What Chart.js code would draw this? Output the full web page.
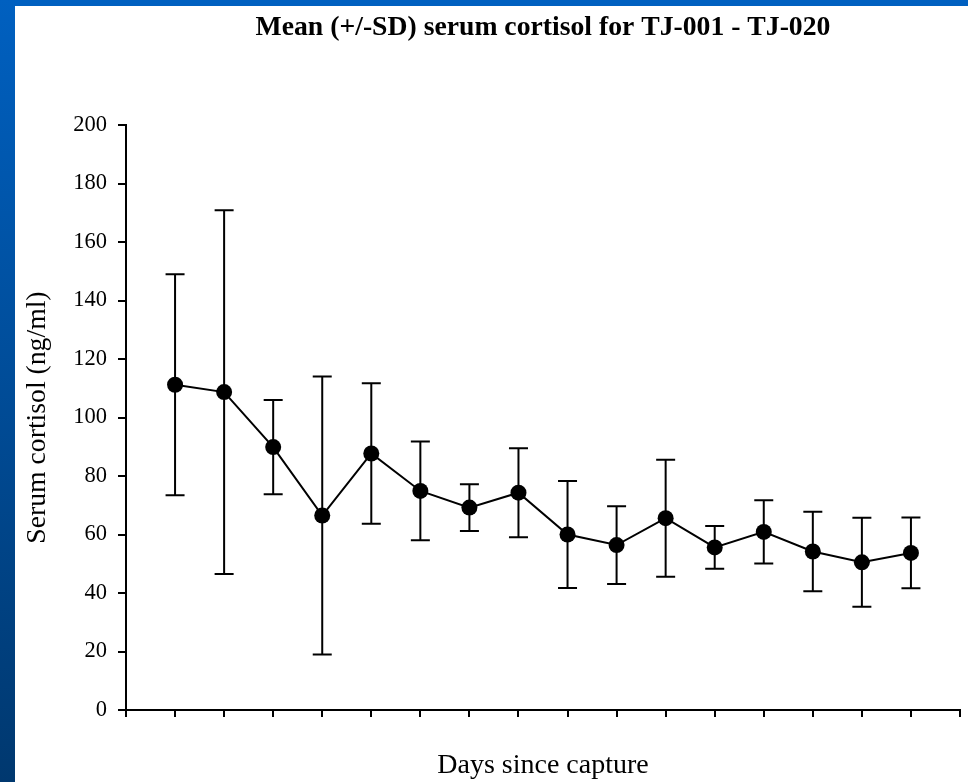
<!DOCTYPE html>
<html>
<head>
<meta charset="utf-8">
<title>Serum cortisol</title>
<script src="https://cdn.jsdelivr.net/npm/chart.js@4.4.1/dist/chart.umd.min.js"></script>
<style>
  html, body { margin: 0; padding: 0; background: #fff; }
  #topband { position: absolute; left: 0; top: 0; width: 968px; height: 6px; background: #0060c0; }
  #leftband { position: absolute; left: 0; top: 0; width: 15px; height: 782px;
              background: linear-gradient(to bottom, #0060c0, #00386f); }
  #wrap { position: absolute; left: 0; top: 0; width: 968px; height: 782px; }
</style>
</head>
<body>
<div id="topband"></div>
<div id="leftband"></div>
<div id="wrap"><canvas id="myChart"></canvas></div>
<script>
// data
const days = [1, 2, 3, 4, 5, 6, 7, 8, 9, 10, 11, 12, 13, 14, 15, 16];
const meanCortisol = [111.2, 108.7, 89.9, 66.5, 87.7, 74.9, 69.2, 74.3, 60.0, 56.4, 65.6, 55.6, 60.9, 54.2, 50.5, 53.7];
const sdCortisol = [37.8, 62.2, 16.1, 47.5, 24.0, 16.9, 8.0, 15.2, 18.3, 13.3, 20.0, 7.3, 10.8, 13.6, 15.2, 12.1];
const yTicks = [0, 20, 40, 60, 80, 100, 120, 140, 160, 180, 200];

const serif = "'Liberation Serif', 'Times New Roman', serif";

// draws the +/- SD whiskers before the points go on top
const errorBars = {
    id: 'errorBars',
    beforeDatasetsDraw(chart) {
        const ctx = chart.ctx;
        const xs = chart.scales.x, ys = chart.scales.y;
        ctx.save();
        ctx.strokeStyle = '#000';
        ctx.lineWidth = 2;
        days.forEach(function (d, i) {
            const px = xs.getPixelForValue(d);
            const top = ys.getPixelForValue(meanCortisol[i] + sdCortisol[i]);
            const bot = ys.getPixelForValue(meanCortisol[i] - sdCortisol[i]);
            ctx.beginPath();
            ctx.moveTo(px, top); ctx.lineTo(px, bot);
            ctx.moveTo(px - 9.5, top); ctx.lineTo(px + 9.5, top);
            ctx.moveTo(px - 9.5, bot); ctx.lineTo(px + 9.5, bot);
            ctx.stroke();
        });
        ctx.restore();
    }
};

const ctx = document.getElementById('myChart').getContext('2d');
new Chart(ctx, {
    type: 'line',
    data: {
        datasets: [{
            label: 'Mean serum cortisol',
            data: days.map(function (d, i) { return { x: d, y: meanCortisol[i] }; }),
            borderColor: '#000',
            borderWidth: 2,
            backgroundColor: '#000',
            pointRadius: 8,
            pointBorderWidth: 0,
            tension: 0,
            fill: false
        }]
    },
    options: {
        responsive: true,
        maintainAspectRatio: false,
        animation: false,
        layout: { padding: { left: 0, right: 5, top: 0, bottom: 0 } },
        plugins: {
            legend: { display: false },
            tooltip: { enabled: false },
            title: {
                display: true,
                text: 'Mean (+/-SD) serum cortisol for TJ-001 - TJ-020',
                fullSize: false,
                color: '#000',
                font: { family: serif, size: 27.7, weight: 'bold' },
                padding: { top: 11, bottom: 80.8 }
            }
        },
        scales: {
            x: {
                type: 'linear',
                min: 0,
                max: 17,
                afterFit: function (scale) { scale.height = 72; },
                ticks: { display: false, stepSize: 1 },
                grid: { drawOnChartArea: false, drawTicks: true, tickLength: 7, color: '#000', lineWidth: 2 },
                border: { display: true, color: '#000', width: 2 },
                title: {
                    display: true,
                    text: 'Days since capture',
                    color: '#000',
                    font: { family: serif, size: 28 },
                    padding: { top: 0, bottom: 0 }
                }
            },
            y: {
                min: 0,
                max: 200,
                afterFit: function (scale) { scale.width = 126; },
                afterBuildTicks: function (scale) { scale.ticks = yTicks.map(function (v) { return { value: v }; }); },
                ticks: { color: '#000', padding: 11, font: { family: serif, size: 22.5 } },
                grid: { drawOnChartArea: false, drawTicks: true, tickLength: 8, color: '#000', lineWidth: 2 },
                border: { display: true, color: '#000', width: 2 },
                title: {
                    display: true,
                    text: 'Serum cortisol (ng/ml)',
                    color: '#000',
                    font: { family: serif, size: 27.7 },
                    padding: { top: 21, bottom: 0 }
                }
            }
        }
    },
    plugins: [errorBars]
});
</script>
</body>
</html>
